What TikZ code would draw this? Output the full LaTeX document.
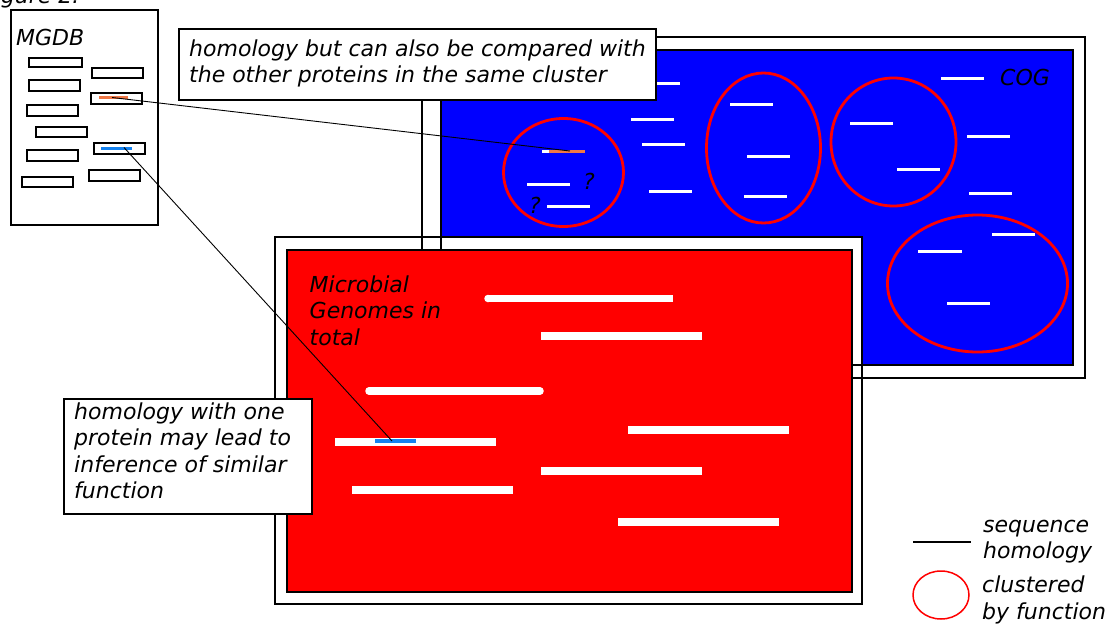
\documentclass[tikz,border=0pt]{standalone}
\usepackage{fontspec}
\setmainfont{DejaVu Sans}

\definecolor{cogblue}{RGB}{0,0,255}
\definecolor{genred}{RGB}{255,0,0}
\definecolor{hitorange}{RGB}{240,120,70}
\definecolor{hitblue}{RGB}{20,130,240}

% multi-line label whose baseline is that of its first line
\newcommand\txtlines[1]{\begin{tabular}[t]{@{}l@{}}#1\end{tabular}}

\tikzset{
  lbl/.style={anchor=base west, inner sep=0pt, font=\fontsize{22}{26.5}\selectfont\itshape},
  frame/.style={draw=black, line width=1.3pt, fill=white},
  seqbox/.style={draw=black, line width=1.6pt, fill=white},
  cogbar/.style={draw=white, line width=3pt},
  genbar/.style={draw=white, line width=7.5pt},
  cluster/.style={draw=genred, line width=2.8pt},
  callout/.style={draw=black, line width=1.3pt, fill=white},
  link/.style={draw=black, line width=0.9pt},
}

\begin{document}
\begin{tikzpicture}[x=1pt,y=-1pt]
\useasboundingbox (0,0) rectangle (1112,624);
\clip (0,0) rectangle (1112,624);
\fill[white] (0,0) rectangle (1112,624);

% caption, cut off by the top edge
\node[lbl] (caption) at (-18,3) {Figure 2:};

% ---------- MGDB panel ----------
\draw[frame] (11,10) rectangle (158,225);
\node[lbl] (mgdb) at (16,45) {MGDB};
\draw[seqbox] (29,58) rectangle (82,67);
\draw[seqbox] (92,68) rectangle (143,78);
\draw[seqbox] (29,80) rectangle (80,91);
\draw[seqbox] (91,93) rectangle (142,104);
\draw[seqbox] (27,105) rectangle (78,116);
\draw[seqbox] (36,127) rectangle (87,137);
\draw[seqbox] (94,143) rectangle (145,154);
\draw[seqbox] (27,150) rectangle (78,161);
\draw[seqbox] (89,170) rectangle (140,181);
\draw[seqbox] (22,177) rectangle (73,187);
\draw[hitorange, line width=3pt] (99,97.5) -- (128,97.5);
\draw[hitblue, line width=3pt] (101,148) -- (132,148);

% ---------- COG panel ----------
\draw[frame] (422,37) rectangle (1085,378);
\draw[draw=black, line width=1.3pt, fill=cogblue] (441,50) rectangle (1073,365);

\draw[cogbar] (657,83) -- (680,83);
\draw[cogbar] (631,119) -- (674,119);
\draw[cogbar] (642,144) -- (685,144);
\draw[cogbar] (649,191) -- (692,191);
\draw[cogbar] (941,78) -- (984,78);
\draw[cogbar] (967,136) -- (1010,136);
\draw[cogbar] (969,193) -- (1012,193);
% cluster 1
\draw[cogbar] (542,151) -- (585,151);
\draw[hitorange, line width=3pt] (549,151) -- (585,151);
\draw[cogbar] (527,184) -- (570,184);
\draw[cogbar] (547,206) -- (590,206);
% cluster 2
\draw[cogbar] (730,104) -- (773,104);
\draw[cogbar] (747,156) -- (790,156);
\draw[cogbar] (744,196) -- (787,196);
% cluster 3
\draw[cogbar] (850,123) -- (893,123);
\draw[cogbar] (897,169) -- (940,169);
% cluster 4
\draw[cogbar] (992,234) -- (1035,234);
\draw[cogbar] (918,251) -- (962,251);
\draw[cogbar] (947,303) -- (990,303);

\draw[cluster] (563.5,172.5) ellipse [x radius=60, y radius=54];
\draw[cluster] (763.5,148) ellipse [x radius=57, y radius=75];
\draw[cluster] (893.5,142) ellipse [x radius=62.5, y radius=64];
\draw[cluster] (977.5,283.5) ellipse [x radius=90, y radius=68.5];

\node[lbl] (q1) at (583,189) {?};
\node[lbl] (q2) at (529,213) {?};
\node[lbl] (cog) at (1000,85) {COG};

% ---------- genomes panel ----------
\draw[frame] (275,237) rectangle (862,604);
\begin{scope}
  \clip (275,237) rectangle (862,604);
  \draw[line width=1.3pt] (422,37) rectangle (1085,378);
  \draw[line width=1.3pt] (441,50) rectangle (1073,365);
\end{scope}
\draw[draw=black, line width=1.3pt, fill=genred] (287,250) rectangle (852,592);

\draw[genbar] (488,298.5) -- (673,298.5);
\fill[white] (488,298.5) circle (3.75);
\draw[genbar] (541,336) -- (702,336);
\draw[genbar, line cap=round] (369,391) -- (540,391);
\draw[genbar] (628,430) -- (789,430);
\draw[genbar] (335,442) -- (496,442);
\draw[hitblue, line width=3.5pt] (375,441) -- (416,441);
\draw[genbar] (541,471) -- (702,471);
\draw[genbar] (352,490) -- (513,490);
\draw[genbar] (618,522) -- (779,522);

\node[lbl] (genomes) at (309.5,292) {\txtlines{Microbial\\Genomes in\\total}};

% ---------- call-outs ----------
\draw[callout] (179,29) rectangle (656,100);
\node[lbl] (clusternote) at (189,56) {\txtlines{homology but can also be compared with\\the other proteins in the same cluster}};

\draw[callout] (64,399) rectangle (312,514);
\node[lbl] (inferencenote) at (74,419) {\txtlines{homology with one\\protein may lead to\\inference of similar\\function}};

% ---------- homology links ----------
\coordinate (orangeHit) at (112,97.5);
\coordinate (cogHit) at (570,151);
\coordinate (blueHit) at (124,147.5);
\coordinate (genHit) at (392,441);
\draw[link] (orangeHit) -- (cogHit);
\draw[link] (blueHit) -- (genHit);

% ---------- legend ----------
\coordinate (legA) at (913,542);
\coordinate (legB) at (971,542);
\draw[line width=1.3pt] (legA) -- (legB);
\node[lbl] (seqlbl) at (983,532) {\txtlines{sequence\\homology}};
\draw[genred, line width=1.5pt] (941,595) ellipse [x radius=28, y radius=24];
\node[lbl] (clulbl) at (982,592.5) {\txtlines{clustered\\by function}};
\end{tikzpicture}
\end{document}
